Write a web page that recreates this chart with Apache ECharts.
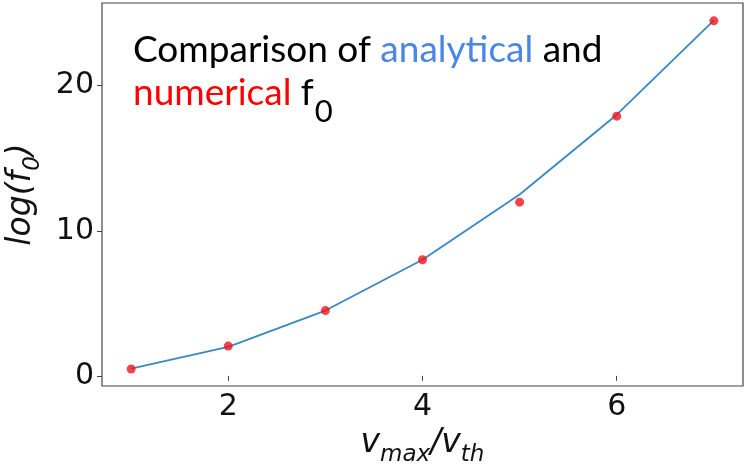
<!DOCTYPE html>
<html>
<head>
<meta charset="utf-8">
<script src="https://cdn.jsdelivr.net/npm/echarts@6/dist/echarts.min.js"></script>
<style>html,body{margin:0;padding:0;background:#fff;}#c{width:749px;height:471px;}</style>
</head>
<body>
<div id="c"></div>
<script>
const vRatio = [1, 2, 3, 4, 5, 6, 7];
const analytical = [0.5, 2.0, 4.5, 8.0, 12.5, 18.0, 24.5];
const numerical = [0.47, 2.05, 4.5, 8.0, 11.97, 17.9, 24.47];
const xTicks = [2, 4, 6];
const yTicks = [0, 10, 20];

const chart = echarts.init(document.getElementById('c'), null, {renderer: 'canvas'});
const tickFont = 'DejaVu Sans';
const mathStyle = {fontFamily: 'DejaVu Sans', fontStyle: 'italic', fontSize: 33, color: '#111'};
const subStyle = {fontFamily: 'DejaVu Sans', fontStyle: 'italic', fontSize: 23, color: '#111', padding: [24, 0, 0, 0]};
const titleK = {fontFamily: 'Lato', fontSize: 37, fill: '#000'};

chart.setOption({
  animation: false,
  grid: {left: 102, right: 6, top: 3, bottom: 85, containLabel: false, outerBoundsMode: 'none',
    show: true, borderColor: '#444', borderWidth: 1.2},
  xAxis: {
    type: 'value', min: 0.7, max: 7.3, interval: 0.1,
    axisLine: {show: false},
    splitLine: {show: false},
    axisTick: {show: true, length: 5, lineStyle: {color: '#444'},
      customValues: xTicks},
    axisLabel: {customValues: xTicks, fontFamily: tickFont, fontSize: 30, color: '#111', margin: 6},
    name: '{v|v}{s|max}{v|/v}{s|th}', nameLocation: 'middle', nameGap: 30,
    nameTextStyle: {rich: {v: mathStyle, s: subStyle}}
  },
  yAxis: {
    type: 'value', min: -0.7, max: 25.7, interval: 0.1,
    axisLine: {show: false},
    splitLine: {show: false},
    axisTick: {show: true, length: 5, lineStyle: {color: '#444'}, customValues: yTicks},
    axisLabel: {customValues: yTicks, fontFamily: tickFont, fontSize: 30, color: '#111', margin: 8},
    name: '{v|log(f}{s|0}{v|)}', nameLocation: 'middle', nameGap: 44, nameRotate: 90,
    nameTextStyle: {rich: {v: mathStyle, s: subStyle}}
  },
  series: [
    {type: 'line', data: vRatio.map((x, i) => [x, analytical[i]]), showSymbol: false, symbol: 'none',
      lineStyle: {color: '#3a88c0', width: 1.8}, z: 2},
    {type: 'scatter', data: vRatio.map((x, i) => [x, numerical[i]]), symbolSize: 9,
      itemStyle: {color: '#f0141e'}, z: 3}
  ],
  graphic: [
    {type: 'text', left: 133, top: 32, style: {
      text: '{k|Comparison of }{b|analytical}{k| and}',
      rich: {k: titleK, b: Object.assign({}, titleK, {fill: '#4a86e8'})}}},
    {type: 'text', left: 133, top: 75, style: {
      text: '{r|numerical}{k| f}{s|0}',
      rich: {k: titleK, r: Object.assign({}, titleK, {fill: '#ff0000'}),
        s: Object.assign({}, titleK, {fontSize: 31, padding: [36, 0, 0, 1]})}}}
  ]
});
</script>
</body>
</html>
